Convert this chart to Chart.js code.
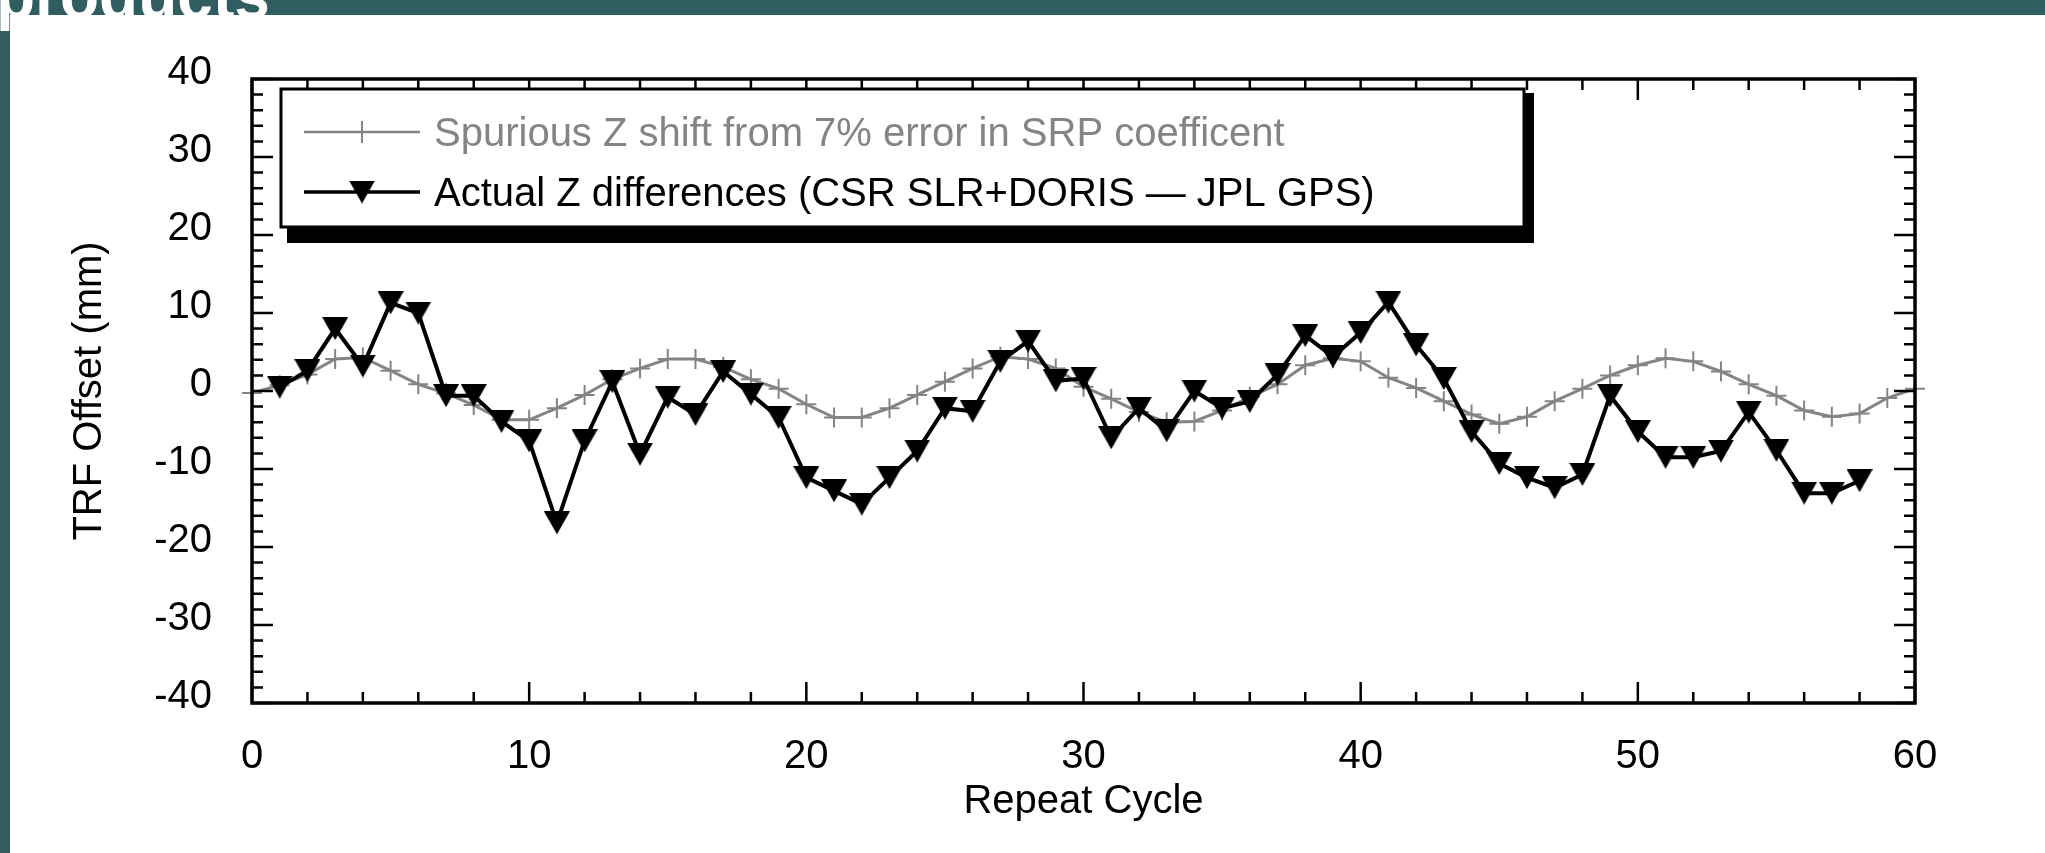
<!DOCTYPE html>
<html>
<head>
<meta charset="utf-8">
<title>TRF Offset</title>
<script src="https://cdn.jsdelivr.net/npm/chart.js@4.4.0/dist/chart.umd.min.js"></script>
<style>
  body {
    margin: 0;
    width: 2045px;
    height: 853px;
    overflow: hidden;
    position: relative;
    background: #2f5d60;
  }
  #heading {
    position: absolute;
    left: -4px;
    top: -41px;
    line-height: 64px;
    color: #fff;
    font: bold 64px "Liberation Sans", Arial, sans-serif;
  }
  #panel {
    position: absolute;
    left: 10px;
    top: 15px;
    width: 2035px;
    height: 838px;
    background: #fff;
  }
</style>
</head>
<body>
<div id="heading">products</div>
<div id="panel"><canvas id="chart" width="2035" height="838"></canvas></div>
<script>
// values
const spuriousCycles = [0, 1, 2, 3, 4, 5, 6, 7, 8, 9, 10, 11, 12, 13, 14, 15, 16, 17, 18, 19, 20,
  21, 22, 23, 24, 25, 26, 27, 28, 29, 30, 31, 32, 33, 34, 35, 36, 37, 38, 39, 40,
  41, 42, 43, 44, 45, 46, 47, 48, 49, 50, 51, 52, 53, 54, 55, 56, 57, 58, 59, 60];
const spuriousZ = [-0.25, 0.75, 2.1, 4.1, 4.3, 2.6, 0.85, -0.3, -1.8, -3.7, -3.7,
  -2.2, -0.5, 1.5, 2.9, 4.1, 4.1, 3.1, 1.5, 0.3, -1.7,
  -3.4, -3.4, -2.2, -0.5, 1.2, 2.9, 4.4, 4.1, 2.9, 0.55,
  -1.0, -2.7, -4.0, -3.9, -2.5, -0.75, 0.85, 3.3, 4.2, 3.8,
  1.7, 0.4, -1.3, -3.0, -4.2, -3.3, -1.3, 0.3, 2.0, 3.3,
  4.2, 3.8, 2.5, 0.85, -0.6, -2.5, -3.3, -2.9, -0.9, 0.3];

const actualCycles = [1, 2, 3, 4, 5, 6, 7, 8, 9, 10, 11, 12, 13, 14, 15, 16, 17, 18, 19, 20,
  21, 22, 23, 24, 25, 26, 27, 28, 29, 30, 31, 32, 33, 34, 35, 36, 37, 38, 39, 40,
  41, 42, 43, 44, 45, 46, 47, 48, 49, 50, 51, 52, 53, 54, 55, 56, 57, 58];
const actualZ = [0.5, 2.6, 8.0, 3.2, 11.3, 10.0, -0.6, -0.6, -3.9, -6.4,
  -16.9, -6.4, 1.2, -8.1, -0.8, -3.0, 2.5, -0.4, -3.4, -11.1,
  -12.8, -14.5, -11.1, -7.7, -2.2, -2.6, 3.8, 6.4, 1.3, 1.6,
  -6.0, -2.2, -5.1, 0.0, -2.2, -1.35, 2.1, 7.1, 4.4, 7.5,
  11.4, 5.9, 1.6, -5.2, -9.3, -11.1, -12.4, -10.7, -0.6, -5.2,
  -8.5, -8.5, -7.7, -2.7, -7.6, -13.1, -13.1, -11.5];

const legendLabels = [
  "Spurious Z shift from 7% error in SRP coefficent",
  "Actual Z differences (CSR SLR+DORIS \u2014 JPL GPS)"
];
const xTitle = "Repeat Cycle";
const yTitle = "TRF Offset (mm)";

const grey = "#848484";
const fontFamily = '"Liberation Sans", Arial, sans-serif';

// down triangle marker, centred on its bounding box
function makeTriangle(w, h) {
  const c = document.createElement("canvas");
  c.width = w;
  c.height = h;
  const g = c.getContext("2d");
  g.fillStyle = "#000";
  g.beginPath();
  g.moveTo(0, 0);
  g.lineTo(w, 0);
  g.lineTo(w / 2, h);
  g.closePath();
  g.fill();
  return c;
}
const triangle = makeTriangle(26, 23);

function toPoints(xs, ys) {
  return xs.map((x, i) => ({ x: x, y: ys[i] }));
}

// box round the plot with inward ticks on all four sides
const frameTicks = {
  id: "frameTicks",
  afterDatasetsDraw(chart) {
    const ctx = chart.ctx;
    const a = chart.chartArea;
    const xs = chart.scales.x;
    const ys = chart.scales.y;
    ctx.save();
    ctx.strokeStyle = "#000";
    ctx.lineWidth = 2.5;
    ctx.beginPath();
    for (let v = -40; v <= 40; v += 2) {
      const y = ys.getPixelForValue(v);
      const len = v % 10 === 0 ? 21 : 11;
      ctx.moveTo(a.left, y);
      ctx.lineTo(a.left + len, y);
      ctx.moveTo(a.right, y);
      ctx.lineTo(a.right - len, y);
    }
    for (let v = 0; v <= 60; v += 2) {
      const x = xs.getPixelForValue(v);
      const len = v % 10 === 0 ? 21 : 11;
      ctx.moveTo(x, a.bottom);
      ctx.lineTo(x, a.bottom - len);
      ctx.moveTo(x, a.top);
      ctx.lineTo(x, a.top + len);
    }
    ctx.stroke();
    ctx.lineWidth = 3.5;
    ctx.strokeRect(a.left, a.top, a.right - a.left, a.bottom - a.top);
    ctx.restore();
  }
};

// boxed legend with a drop shadow
const boxLegend = {
  id: "boxLegend",
  afterDraw(chart) {
    const ctx = chart.ctx;
    const left = 271, top = 74, right = 1514, bottom = 212;
    ctx.save();
    ctx.fillStyle = "#000";
    ctx.fillRect(right, top + 4, 10, bottom - top + 12);
    ctx.fillRect(left + 6, bottom, right - left + 4, 16);
    ctx.fillStyle = "#fff";
    ctx.fillRect(left, top, right - left, bottom - top);
    ctx.strokeStyle = "#000";
    ctx.lineWidth = 3;
    ctx.strokeRect(left, top, right - left, bottom - top);

    const rows = [131, 191];
    const ds = chart.data.datasets;
    ctx.font = "40px " + fontFamily;
    ctx.textBaseline = "alphabetic";
    rows.forEach((base, i) => {
      const y = base - 14;
      ctx.strokeStyle = ds[i].borderColor;
      ctx.lineWidth = i === 0 ? 2.5 : 3.5;
      ctx.beginPath();
      ctx.moveTo(294, y);
      ctx.lineTo(410, y);
      ctx.stroke();
      if (i === 0) {
        ctx.lineWidth = 2;
        ctx.beginPath();
        ctx.moveTo(352, y - 11);
        ctx.lineTo(352, y + 11);
        ctx.stroke();
      } else {
        ctx.drawImage(triangle, 352 - triangle.width / 2, y - triangle.height / 2);
      }
      ctx.fillStyle = i === 0 ? grey : "#000";
      ctx.fillText(ds[i].label, 424, base);
    });
    ctx.restore();
  }
};

const tickFont = { family: fontFamily, size: 40 };

new Chart(document.getElementById("chart"), {
  type: "line",
  data: {
    datasets: [
      {
        label: legendLabels[0],
        data: toPoints(spuriousCycles, spuriousZ),
        borderColor: grey,
        borderWidth: 3,
        pointStyle: "cross",
        pointRadius: 10,
        pointBorderWidth: 2,
        pointBorderColor: grey,
        tension: 0,
        clip: false,
        order: 2,
      },
      {
        label: legendLabels[1],
        data: toPoints(actualCycles, actualZ),
        borderColor: "#000",
        borderWidth: 4,
        pointStyle: triangle,
        pointRadius: 12,
        tension: 0,
        clip: false,
        order: 1,
      },
    ],
  },
  options: {
    responsive: false,
    animation: false,
    layout: { padding: { left: 0, right: 130, top: 60, bottom: 0 } },
    plugins: {
      legend: { display: false },
      tooltip: { enabled: false },
    },
    scales: {
      x: {
        type: "linear",
        min: 0,
        max: 60,
        ticks: { stepSize: 10, font: tickFont, color: "#000", padding: 30, maxRotation: 0 },
        grid: { display: false, drawTicks: false },
        border: { display: false },
        title: {
          display: true,
          text: xTitle,
          font: tickFont,
          color: "#000",
          padding: { top: 27, bottom: 27 },
        },
        afterFit(s) {
          s.height = 150;
        },
      },
      y: {
        type: "linear",
        min: -40,
        max: 40,
        ticks: { stepSize: 10, font: tickFont, color: "#000", padding: 40, labelOffset: -6 },
        grid: { display: false, drawTicks: false },
        border: { display: false },
        title: {
          display: true,
          text: yTitle,
          font: tickFont,
          color: "#000",
          padding: { top: 56, bottom: 56 },
        },
        afterFit(s) {
          s.width = 242;
        },
      },
    },
  },
  plugins: [frameTicks, boxLegend],
});
</script>
</body>
</html>
